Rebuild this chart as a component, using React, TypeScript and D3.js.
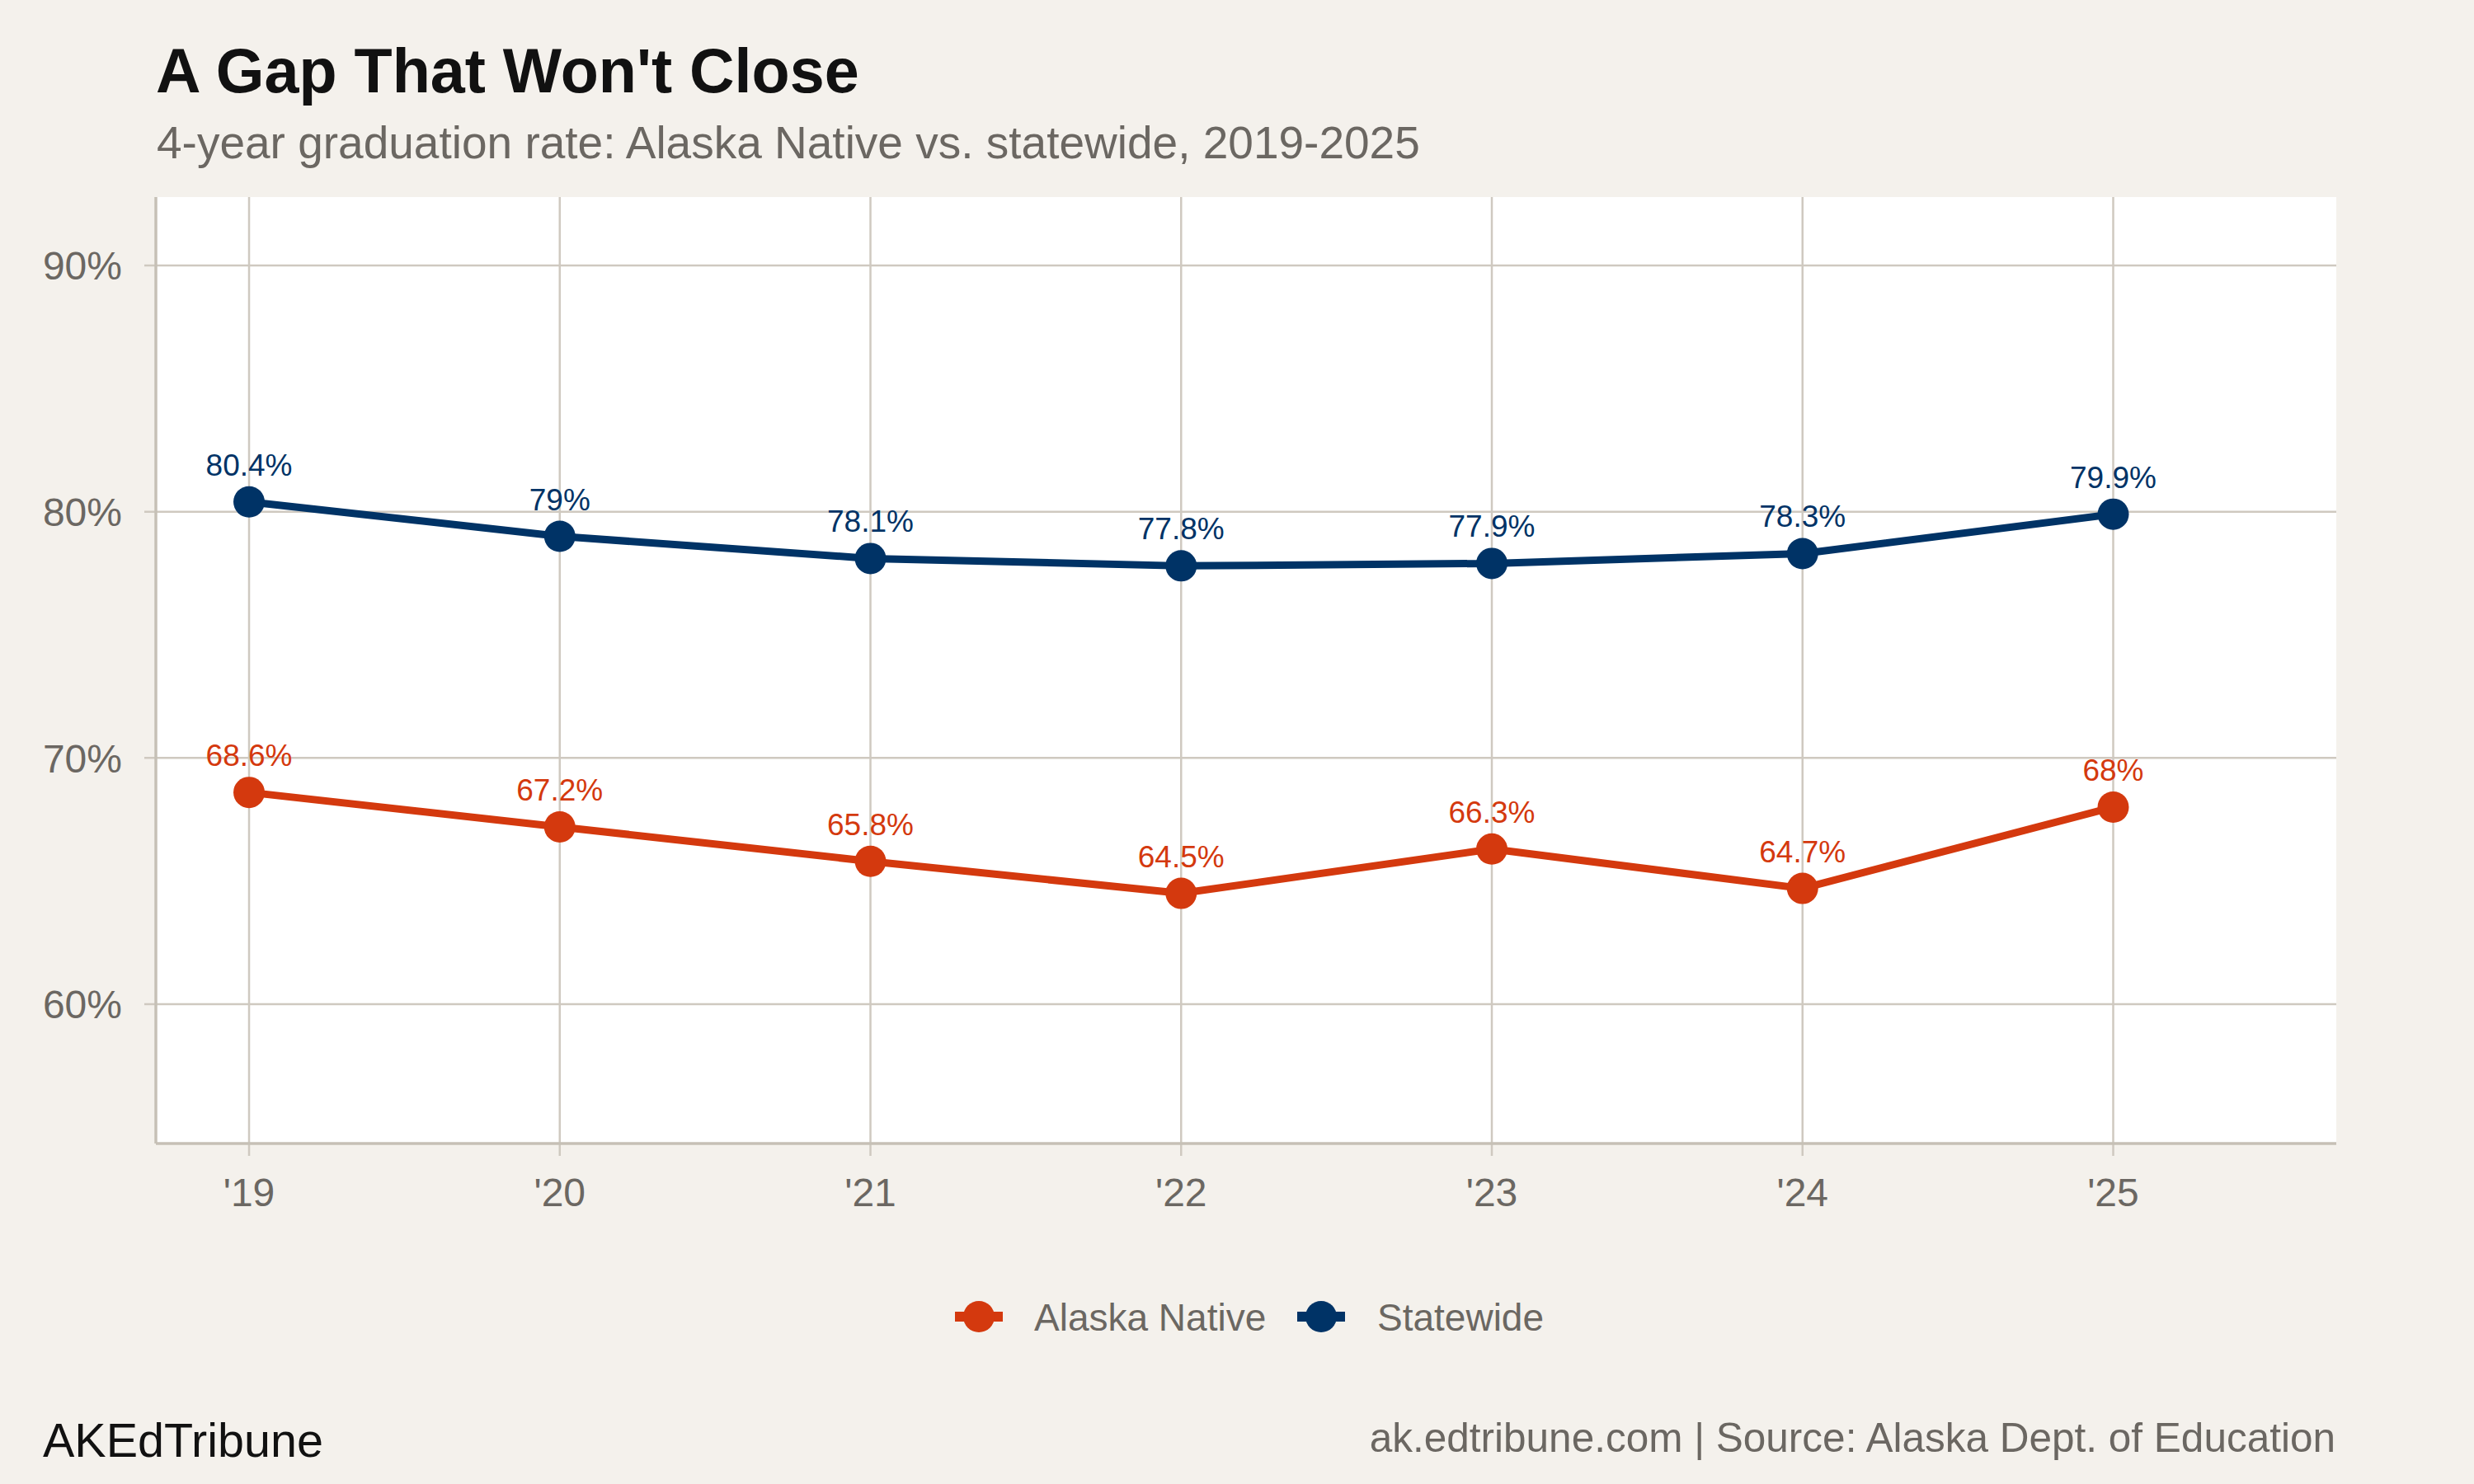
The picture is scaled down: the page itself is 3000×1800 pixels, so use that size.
import React from "react";
import * as d3 from "d3";

const years = [2019, 2020, 2021, 2022, 2023, 2024, 2025];
const alaskaNative = [68.6, 67.2, 65.8, 64.5, 66.3, 64.7, 68];
const statewide = [80.4, 79, 78.1, 77.8, 77.9, 78.3, 79.9];
const yTicks = [60, 70, 80, 90];
const seriesNames = ["Alaska Native", "Statewide"];

const W = 3000;
const H = 1800;
const FONT = "'Liberation Sans', Arial, Helvetica, sans-serif";
const BG = "#F4F1EC";
const GRID = "#CFC9C0";
const AXIS = "#C6C0B6";
const GREY = "#6B6762";
const RED = "#D4390E";
const NAVY = "#003366";

const App = () => {
  const panel = { left: 189, top: 239, right: 2833, bottom: 1387 };

  const x = d3
    .scaleLinear()
    .domain([2018.7, 2025.718])
    .range([panel.left, panel.right]);

  const y = d3
    .scaleLinear()
    .domain([54.34, 92.78])
    .range([panel.bottom, panel.top]);

  const line = d3
    .line<number>()
    .x((_, i) => x(years[i]))
    .y((d) => y(d));

  const series = [
    { name: seriesNames[0], values: alaskaNative, color: RED },
    { name: seriesNames[1], values: statewide, color: NAVY },
  ];

  const legend = [
    { name: seriesNames[0], color: RED, cx: 1187, tx: 1254 },
    { name: seriesNames[1], color: NAVY, cx: 1602, tx: 1670 },
  ];

  return (
    <svg
      width={W}
      height={H}
      style={{ position: "absolute", left: 0, top: 0, display: "block" }}
      fontFamily={FONT}
    >
      <rect width={W} height={H} fill={BG} />

      <text x={189} y={112} fontSize={75.5} fontWeight="bold" fill="#111">
        A Gap That Won't Close
      </text>
      <text x={190} y={192} fontSize={55} fill={GREY}>
        4-year graduation rate: Alaska Native vs. statewide, 2019-2025
      </text>

      <rect
        x={panel.left}
        y={panel.top}
        width={panel.right - panel.left}
        height={panel.bottom - panel.top}
        fill="#fff"
      />

      {/* grid */}
      {yTicks.map((t) => (
        <g key={`y${t}`}>
          <line
            x1={panel.left - 14}
            x2={panel.right}
            y1={y(t)}
            y2={y(t)}
            stroke={GRID}
            strokeWidth={2.5}
          />
          <text
            x={148}
            y={y(t)}
            dy="0.36em"
            textAnchor="end"
            fontSize={48}
            fill={GREY}
          >
            {`${t}%`}
          </text>
        </g>
      ))}
      {years.map((yr) => (
        <g key={`x${yr}`}>
          <line
            x1={x(yr)}
            x2={x(yr)}
            y1={panel.top}
            y2={panel.bottom + 15}
            stroke={GRID}
            strokeWidth={2.5}
          />
          <text
            x={x(yr)}
            y={1463}
            textAnchor="middle"
            fontSize={48}
            fill={GREY}
          >
            {`'${String(yr).slice(2)}`}
          </text>
        </g>
      ))}

      {/* axis lines */}
      <line
        x1={panel.left}
        x2={panel.left}
        y1={panel.top}
        y2={panel.bottom}
        stroke={AXIS}
        strokeWidth={3.5}
      />
      <line
        x1={panel.left}
        x2={panel.right}
        y1={panel.bottom}
        y2={panel.bottom}
        stroke={AXIS}
        strokeWidth={3.5}
      />

      {/* series */}
      {series.map((s) => (
        <g key={s.name}>
          <path
            d={line(s.values) ?? ""}
            fill="none"
            stroke={s.color}
            strokeWidth={9}
            strokeLinejoin="round"
          />
          {s.values.map((v, i) => (
            <circle key={i} cx={x(years[i])} cy={y(v)} r={19} fill={s.color} />
          ))}
          {s.values.map((v, i) => (
            <text
              key={`l${i}`}
              x={x(years[i])}
              y={y(v) - 32}
              textAnchor="middle"
              fontSize={37}
              fill={s.color}
            >
              {`${v}%`}
            </text>
          ))}
        </g>
      ))}

      {/* legend */}
      {legend.map((l) => (
        <g key={l.name}>
          <line
            x1={l.cx - 29}
            x2={l.cx + 29}
            y1={1597}
            y2={1597}
            stroke={l.color}
            strokeWidth={12}
          />
          <circle cx={l.cx} cy={1597} r={19} fill={l.color} />
          <text x={l.tx} y={1614} fontSize={46} fill={GREY}>
            {l.name}
          </text>
        </g>
      ))}

      {/* footer */}
      <text x={52} y={1767} fontSize={57.5} fill="#111">
        AKEdTribune
      </text>
      <text x={2832} y={1761} textAnchor="end" fontSize={49.5} fill={GREY}>
        ak.edtribune.com | Source: Alaska Dept. of Education
      </text>
    </svg>
  );
};

export default App;
